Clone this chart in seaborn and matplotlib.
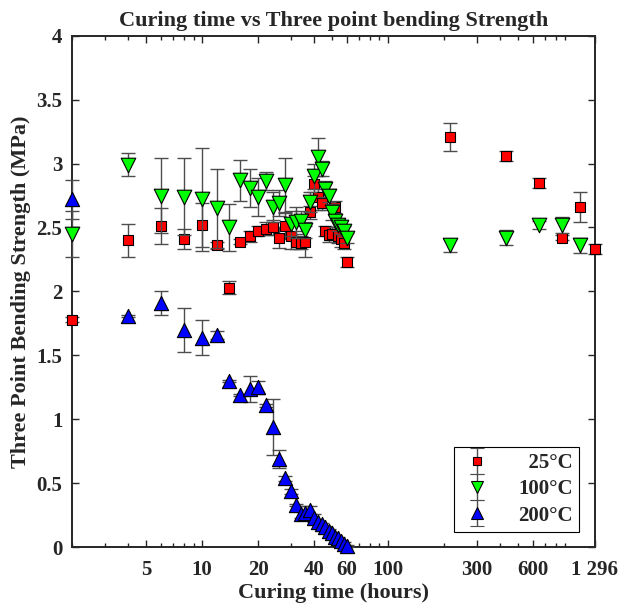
import numpy as np
import pandas as pd
import matplotlib
matplotlib.use("Agg")
import matplotlib.pyplot as plt
import seaborn as sns
from matplotlib.ticker import LogLocator, NullFormatter, FixedLocator
from matplotlib.legend_handler import HandlerErrorbar
from matplotlib.container import ErrorbarContainer

# data (hours, MPa)
hours_25 = [2, 4, 6, 8, 10, 12, 14, 16, 18, 20, 22, 24, 26, 28, 30, 32, 34, 36, 38, 40,
            42, 44, 46, 48, 50, 52, 54, 56, 58, 60, 216, 432, 648, 864, 1080, 1296]
strength_25 = [1.78, 2.40, 2.51, 2.41, 2.52, 2.36, 2.03, 2.39, 2.43, 2.47, 2.49, 2.50, 2.42, 2.51,
               2.43, 2.39, 2.38, 2.39, 2.62, 2.84, 2.74, 2.69, 2.47, 2.44, 2.45, 2.66, 2.43, 2.41,
               2.38, 2.23, 3.21, 3.06, 2.85, 2.42, 2.66, 2.33]
err_25 = [0.02, 0.13, 0.14, 0.08, 0.17, 0.03, 0.05, 0.02, 0.04, 0.04, 0.05, 0.06, 0.08, 0.10,
          0.10, 0.06, 0.05, 0.12, 0.05, 0.06, 0.10, 0.05, 0.04, 0.05, 0.05, 0.05, 0.05, 0.06,
          0.05, 0.04, 0.11, 0.04, 0.04, 0.02, 0.12, 0.04]

hours_100 = [2, 4, 6, 8, 10, 12, 14, 16, 18, 20, 22, 24, 26, 28, 30, 32, 34, 36, 38, 40,
             42, 44, 46, 48, 50, 52, 54, 56, 58, 60, 216, 432, 648, 864, 1080]
strength_100 = [2.45, 2.99, 2.75, 2.74, 2.72, 2.65, 2.50, 2.87, 2.81, 2.74, 2.86, 2.66, 2.69, 2.83,
                2.53, 2.54, 2.55, 2.48, 2.70, 2.90, 3.05, 2.96, 2.80, 2.75, 2.62, 2.55, 2.52, 2.50,
                2.47, 2.42, 2.36, 2.42, 2.52, 2.52, 2.36]
err_100 = [0.18, 0.09, 0.29, 0.30, 0.40, 0.31, 0.18, 0.16, 0.15, 0.15, 0.07, 0.12, 0.10, 0.21,
           0.10, 0.12, 0.08, 0.06, 0.08, 0.10, 0.15, 0.06, 0.06, 0.05, 0.06, 0.05, 0.05, 0.05,
           0.04, 0.04, 0.05, 0.06, 0.03, 0.06, 0.06]

hours_200 = [2, 4, 6, 8, 10, 12, 14, 16, 18, 20, 22, 24, 26, 28, 30, 32, 34, 36, 38, 40,
             42, 44, 46, 48, 50, 52, 54, 56, 58, 60]
strength_200 = [2.72, 1.81, 1.91, 1.70, 1.64, 1.66, 1.30, 1.19, 1.24, 1.25, 1.11, 0.94, 0.69, 0.54,
                0.44, 0.33, 0.26, 0.27, 0.29, 0.23, 0.20, 0.18, 0.16, 0.13, 0.11, 0.08, 0.07, 0.05,
                0.03, 0.01]
err_200 = [0.15, 0.01, 0.09, 0.17, 0.14, 0.03, 0.01, 0.01, 0.10, 0.05, 0.01, 0.22, 0.07, 0.02,
           0.02, 0.01, 0.03, 0.05, 0.03, 0.03, 0.01, 0.01, 0.01, 0.01, 0.01, 0.01, 0.01, 0.01,
           0.01, 0.01]

labels = ["\u200725°C", "100°C", "200°C"]
x_ticks = [5, 10, 20, 40, 60, 100, 300, 600, 1296]
x_ticklabels = ["5", "10", "20", "40", "60", "100", "300", "600", "1 296"]
y_ticks = [0, 0.5, 1, 1.5, 2, 2.5, 3, 3.5, 4]
y_ticklabels = ["0", "0.5", "1", "1.5", "2", "2.5", "3", "3.5", "4"]

sns.set_style("ticks")
plt.rcParams['font.family'] = ['Liberation Serif', 'DejaVu Serif']
plt.rcParams['font.weight'] = 'bold'
plt.rcParams['axes.labelweight'] = 'bold'
plt.rcParams['axes.titleweight'] = 'bold'

fig, ax = plt.subplots(figsize=(6.21, 6.13), dpi=100)
fig.subplots_adjust(left=0.116, right=0.958, top=0.942, bottom=0.107)

series = [
    (hours_25, strength_25, err_25, "s", "#ff0000", 56),
    (hours_100, strength_100, err_100, "v", "#00ff00", 110),
    (hours_200, strength_200, err_200, "^", "#0000ff", 105),
]

handles = []
for i, (h, s, e, mk, col, size) in enumerate(series):
    df = pd.DataFrame({"hours": h, "strength": s})
    ax.errorbar(h, s, yerr=e, fmt="none", ecolor="#4d4d4d", elinewidth=1.0,
                capsize=5, capthick=1.0, zorder=2 + 2 * i, clip_on=False)
    sns.scatterplot(data=df, x="hours", y="strength", marker=mk, color=col, s=size,
                    edgecolor="black", linewidth=0.8, ax=ax, legend=False,
                    zorder=3 + 2 * i, clip_on=False)
    # legend proxy: marker with vertical error bar, nothing drawn on the axes
    proxy = ax.errorbar([np.nan], [np.nan], yerr=[np.nan], fmt=mk, ms=np.sqrt(size) * 0.8,
                        mfc=col, mec="black", mew=0.8, ecolor="#4d4d4d", elinewidth=1.0,
                        capsize=5, capthick=1.0)
    handles.append(proxy)

ax.set_xscale("log")
ax.set_xlim(2, 1296)
ax.set_ylim(0, 4)
ax.xaxis.set_major_locator(FixedLocator(x_ticks))
ax.set_xticklabels(x_ticklabels)
ax.xaxis.set_minor_locator(LogLocator(base=10, subs=range(2, 10), numticks=20))
ax.xaxis.set_minor_formatter(NullFormatter())
ax.set_yticks(y_ticks)
ax.set_yticklabels(y_ticklabels)

ax.tick_params(which="both", direction="in", top=True, right=True, labelsize=15,
               color="#262626", width=1.0)
ax.tick_params(which="major", length=5)
ax.tick_params(which="minor", length=3)
ax.tick_params(axis="x", which="major", pad=9)
ax.tick_params(axis="y", which="major", pad=7)
for sp in ax.spines.values():
    sp.set_linewidth(1.4)
    sp.set_color("#262626")

ax.set_title("Curing time vs Three point bending Strength", fontsize=16, pad=7)
ax.set_xlabel("Curing time (hours)", fontsize=16, labelpad=2)
ax.set_ylabel("Three Point Bending Strength (MPa)", fontsize=16, labelpad=4)

leg = ax.legend(handles, labels, loc="lower right", fontsize=15, frameon=True,
                fancybox=False, framealpha=1, edgecolor="black", borderaxespad=0.75,
                handlelength=1.6, handletextpad=1.2, labelspacing=0.3, borderpad=0.3,
                handler_map={ErrorbarContainer: HandlerErrorbar(yerr_size=0.62)})
leg.get_frame().set_linewidth(0.8)
for t in leg.get_texts():
    t.set_fontweight("bold")

fig.savefig("out.png", dpi=100)
